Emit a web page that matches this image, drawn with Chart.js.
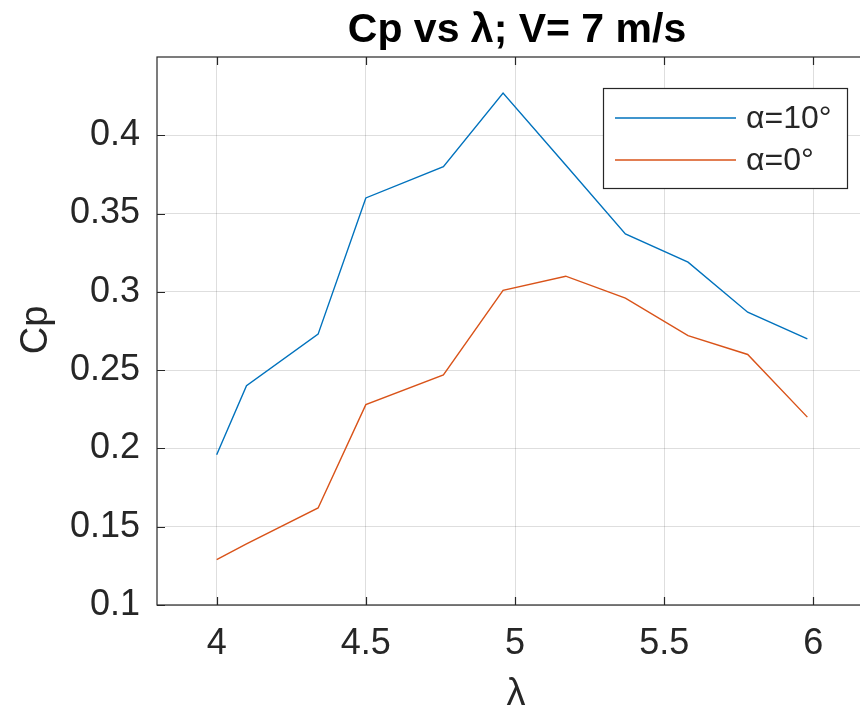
<!DOCTYPE html>
<html>
<head>
<meta charset="utf-8">
<script src="https://cdn.jsdelivr.net/npm/chart.js@4.4.1/dist/chart.umd.min.js"></script>
<style>
    html, body { margin: 0; padding: 0; background: #fff; overflow: hidden; }
    #wrap { width: 876px; height: 715px; }
</style>
</head>
<body>
<div id="wrap"><canvas id="cpChart" width="876" height="715"></canvas></div>
<script>
// Data
const lambdaValues = [4, 4.1, 4.34, 4.5, 4.76, 4.96, 5.17, 5.37, 5.58, 5.78, 5.98];
const cpAlpha10 = [0.196, 0.24, 0.273, 0.36, 0.38, 0.427, 0.381, 0.337, 0.319, 0.287, 0.27];
const cpAlpha0 = [0.129, 0.139, 0.162, 0.228, 0.247, 0.301, 0.31, 0.296, 0.272, 0.26, 0.22];
const seriesLabels = ['α=10°', 'α=0°'];
const xTicks = [4, 4.5, 5, 5.5, 6];
const yTicks = [0.1, 0.15, 0.2, 0.25, 0.3, 0.35, 0.4];

const axisColor = '#262626';
const fontFamily = '"Liberation Sans", Arial, Helvetica, sans-serif';

function toPoints(xs, ys) {
    return xs.map((x, i) => ({ x: x, y: ys[i] }));
}

// Box, inward ticks, title, axis labels and legend like the original figure
const matlabFrame = {
    id: 'matlabFrame',
    afterDatasetsDraw(chart) {
        const ctx = chart.ctx;
        const area = chart.chartArea;
        const xs = chart.scales.x;
        const ys = chart.scales.y;
        ctx.save();
        ctx.strokeStyle = axisColor;
        ctx.lineWidth = 1.2;
        ctx.strokeRect(area.left, area.top, area.right - area.left, area.bottom - area.top);

        const tl = 8;
        ctx.beginPath();
        xTicks.forEach(v => {
            const px = Math.round(xs.getPixelForValue(v)) + 0.5;
            ctx.moveTo(px, area.bottom);
            ctx.lineTo(px, area.bottom - tl);
            ctx.moveTo(px, area.top);
            ctx.lineTo(px, area.top + tl);
        });
        yTicks.forEach(v => {
            const py = Math.round(ys.getPixelForValue(v)) + 0.5;
            ctx.moveTo(area.left, py);
            ctx.lineTo(area.left + tl, py);
        });
        ctx.stroke();

        // Title
        ctx.fillStyle = '#000';
        ctx.textAlign = 'center';
        ctx.textBaseline = 'middle';
        ctx.font = 'bold 41px ' + fontFamily;
        ctx.fillText('Cp vs λ; V= 7 m/s', 517, 31);

        // Axis labels
        ctx.fillStyle = axisColor;
        ctx.font = '38px ' + fontFamily;
        ctx.fillText('λ', 516, 695);
        ctx.save();
        ctx.translate(37, 330);
        ctx.rotate(-Math.PI / 2);
        ctx.fillText('Cp', 0, 0);
        ctx.restore();

        // Legend
        const lx = 603, ly = 88, lw = 244, lh = 100;
        ctx.fillStyle = '#fff';
        ctx.fillRect(lx, ly, lw, lh);
        ctx.strokeStyle = axisColor;
        ctx.lineWidth = 1.2;
        ctx.strokeRect(lx + 0.5, ly + 0.5, lw, lh);
        ctx.font = '32px ' + fontFamily;
        ctx.textAlign = 'left';
        chart.data.datasets.forEach((ds, i) => {
            const yy = ly + 30 + i * 42;
            ctx.strokeStyle = ds.borderColor;
            ctx.lineWidth = 1.5;
            ctx.beginPath();
            ctx.moveTo(lx + 12, yy);
            ctx.lineTo(lx + 133, yy);
            ctx.stroke();
            ctx.fillStyle = axisColor;
            ctx.fillText(ds.label, lx + 143, yy + 1);
        });
        ctx.restore();
    }
};

new Chart(document.getElementById('cpChart').getContext('2d'), {
    type: 'line',
    data: {
        datasets: [{
            label: seriesLabels[0],
            data: toPoints(lambdaValues, cpAlpha10),
            borderColor: '#0072BD',
            borderWidth: 1.4,
            pointRadius: 0,
            tension: 0,
            fill: false
        }, {
            label: seriesLabels[1],
            data: toPoints(lambdaValues, cpAlpha0),
            borderColor: '#D95319',
            borderWidth: 1.4,
            pointRadius: 0,
            tension: 0,
            fill: false
        }]
    },
    options: {
        responsive: false,
        animation: false,
        devicePixelRatio: 1,
        layout: { padding: { top: 57, right: 3, left: 0, bottom: 0 } },
        plugins: {
            legend: { display: false },
            title: { display: false },
            tooltip: { enabled: false }
        },
        scales: {
            x: {
                type: 'linear',
                min: 3.8,
                max: 6.2,
                afterBuildTicks: scale => { scale.ticks = xTicks.map(v => ({ value: v })); },
                afterFit: scale => { scale.height = 110; },
                grid: { color: 'rgba(0,0,0,0.13)', drawTicks: false, tickLength: 0 },
                border: { display: false },
                ticks: {
                    color: axisColor,
                    font: { family: fontFamily, size: 36 },
                    padding: 17,
                    maxRotation: 0,
                    callback: v => String(v)
                }
            },
            y: {
                type: 'linear',
                min: 0.1,
                max: 0.45,
                afterBuildTicks: scale => { scale.ticks = yTicks.map(v => ({ value: v })); },
                afterFit: scale => { scale.width = 157; },
                grid: { color: 'rgba(0,0,0,0.13)', drawTicks: false, tickLength: 0 },
                border: { display: false },
                ticks: {
                    color: axisColor,
                    font: { family: fontFamily, size: 36 },
                    padding: 17,
                    callback: v => String(v)
                }
            }
        }
    },
    plugins: [matlabFrame]
});
</script>
</body>
</html>
